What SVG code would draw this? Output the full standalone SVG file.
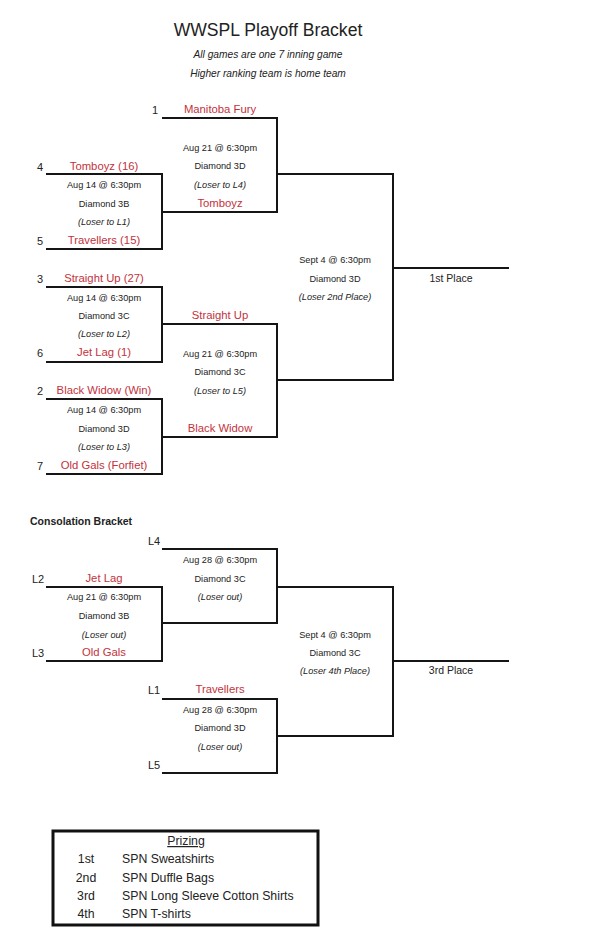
<svg xmlns="http://www.w3.org/2000/svg" width="600" height="942" viewBox="0 0 600 942">
<style>
text{font-family:"Liberation Sans",Arial,sans-serif;fill:#222}
.t{font-size:17.6px;text-anchor:middle}
.sub{font-size:10.2px;font-style:italic;text-anchor:middle}
.team{font-size:11.3px;fill:#c3323c;text-anchor:middle}
.info{font-size:9.2px;text-anchor:middle}
.it{font-size:9.2px;font-style:italic;text-anchor:middle}
.seed{font-size:11px}
.place{font-size:10.5px;text-anchor:middle}
.hd{font-size:10.5px;font-weight:bold}
.pz{font-size:12.3px}
.ln{fill:none;stroke:#151515;stroke-width:2}
</style>
<rect width="600" height="942" fill="#fff"/>
<g id="title">
<text class="t" x="268" y="36">WWSPL Playoff Bracket</text>
<text class="sub" x="268" y="58">All games are one 7 inning game</text>
<text class="sub" x="268" y="77">Higher ranking team is home team</text>
</g>
<g id="connectors">
<path class="ln" d="M162 118H277V212H162"/>
<path class="ln" d="M46 174H162V249H46"/>
<path class="ln" d="M46 287H162V362H46"/>
<path class="ln" d="M162 324H277V437H162"/>
<path class="ln" d="M46 399H162V474H46"/>
<path class="ln" d="M277 174H393V380H277"/>
<path class="ln" d="M393 268H509"/>
<path class="ln" d="M162 549H277V623H162"/>
<path class="ln" d="M46 587H162V661H46"/>
<path class="ln" d="M162 699H277V773H162"/>
<path class="ln" d="M277 587H393V736H277"/>
<path class="ln" d="M393 661H509"/>
</g>
<g id="seed1"><text class="seed" x="152" y="114">1</text><text class="team" x="220" y="113">Manitoba Fury</text></g>
<g id="game-r2a"><text class="info" x="220" y="151">Aug 21 @ 6:30pm</text><text class="info" x="220" y="169">Diamond 3D</text><text class="it" x="220" y="188">(Loser to L4)</text><text class="team" x="220" y="207">Tomboyz</text></g>
<g id="seed4"><text class="seed" x="37" y="171">4</text><text class="team" x="104" y="170">Tomboyz (16)</text></g>
<g id="game-r1a"><text class="info" x="104" y="188">Aug 14 @ 6:30pm</text><text class="info" x="104" y="207">Diamond 3B</text><text class="it" x="104" y="225">(Loser to L1)</text></g>
<g id="seed5"><text class="seed" x="37" y="245">5</text><text class="team" x="104" y="244">Travellers (15)</text></g>
<g id="seed3"><text class="seed" x="37" y="283">3</text><text class="team" x="104" y="282">Straight Up (27)</text></g>
<g id="game-r1b"><text class="info" x="104" y="301">Aug 14 @ 6:30pm</text><text class="info" x="104" y="319">Diamond 3C</text><text class="it" x="104" y="337">(Loser to L2)</text></g>
<g id="seed6"><text class="seed" x="37" y="357">6</text><text class="team" x="104" y="356">Jet Lag (1)</text></g>
<g id="game-r2b"><text class="team" x="220" y="319">Straight Up</text><text class="info" x="220" y="357">Aug 21 @ 6:30pm</text><text class="info" x="220" y="375">Diamond 3C</text><text class="it" x="220" y="394">(Loser to L5)</text><text class="team" x="220" y="432">Black Widow</text></g>
<g id="seed2"><text class="seed" x="37" y="395">2</text><text class="team" x="104" y="394">Black Widow (Win)</text></g>
<g id="game-r1c"><text class="info" x="104" y="413">Aug 14 @ 6:30pm</text><text class="info" x="104" y="432">Diamond 3D</text><text class="it" x="104" y="450">(Loser to L3)</text></g>
<g id="seed7"><text class="seed" x="37" y="470">7</text><text class="team" x="104" y="469">Old Gals (Forfiet)</text></g>
<g id="final"><text class="info" x="335" y="263">Sept 4 @ 6:30pm</text><text class="info" x="335" y="282">Diamond 3D</text><text class="it" x="335" y="300">(Loser 2nd Place)</text></g>
<g id="first"><text class="place" x="451" y="282">1st Place</text></g>
<g id="consolation-heading"><text class="hd" x="30" y="525">Consolation Bracket</text></g>
<g id="c-l4"><text class="seed" x="148" y="545">L4</text></g>
<g id="c-game-a"><text class="info" x="220" y="563">Aug 28 @ 6:30pm</text><text class="info" x="220" y="582">Diamond 3C</text><text class="it" x="220" y="600">(Loser out)</text></g>
<g id="c-l2"><text class="seed" x="32" y="583">L2</text><text class="team" x="104" y="582">Jet Lag</text></g>
<g id="c-game-b"><text class="info" x="104" y="600">Aug 21 @ 6:30pm</text><text class="info" x="104" y="619">Diamond 3B</text><text class="it" x="104" y="638">(Loser out)</text></g>
<g id="c-l3"><text class="seed" x="32" y="657">L3</text><text class="team" x="104" y="656">Old Gals</text></g>
<g id="c-final"><text class="info" x="335" y="638">Sept 4 @ 6:30pm</text><text class="info" x="335" y="656">Diamond 3C</text><text class="it" x="335" y="674">(Loser 4th Place)</text></g>
<g id="third"><text class="place" x="451" y="674">3rd Place</text></g>
<g id="c-l1"><text class="seed" x="148" y="694">L1</text><text class="team" x="220" y="693">Travellers</text></g>
<g id="c-game-c"><text class="info" x="220" y="713">Aug 28 @ 6:30pm</text><text class="info" x="220" y="731">Diamond 3D</text><text class="it" x="220" y="750">(Loser out)</text></g>
<g id="c-l5"><text class="seed" x="148" y="769">L5</text></g>
<g id="prizing">
<rect x="53" y="831" width="265" height="94" fill="none" stroke="#111" stroke-width="3"/>
<text class="pz" x="186" y="845" text-anchor="middle" text-decoration="underline">Prizing</text>
<text class="pz" x="86" y="863" text-anchor="middle">1st</text><text class="pz" x="122" y="863">SPN Sweatshirts</text>
<text class="pz" x="86" y="882" text-anchor="middle">2nd</text><text class="pz" x="122" y="882">SPN Duffle Bags</text>
<text class="pz" x="86" y="900" text-anchor="middle">3rd</text><text class="pz" x="122" y="900">SPN Long Sleeve Cotton Shirts</text>
<text class="pz" x="86" y="918" text-anchor="middle">4th</text><text class="pz" x="122" y="918">SPN T-shirts</text>
</g>
</svg>
